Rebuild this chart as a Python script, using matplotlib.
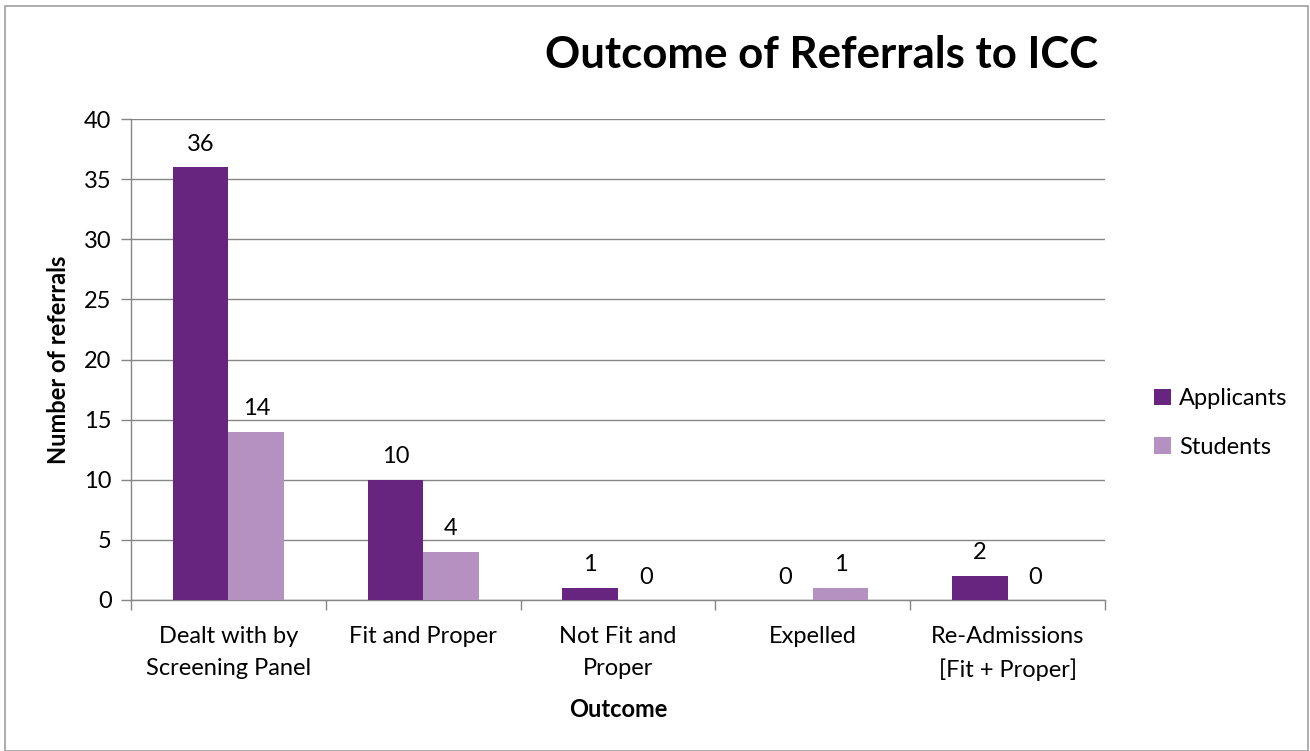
import matplotlib
matplotlib.use("Agg")
import matplotlib.pyplot as plt
import numpy as np
from matplotlib.patches import Rectangle

categories = ["Dealt with by\nScreening Panel", "Fit and Proper", "Not Fit and\nProper",
              "Expelled", "Re-Admissions\n[Fit + Proper]"]
applicants = [36, 10, 1, 0, 2]
students = [14, 4, 0, 1, 0]
yticks = [0, 5, 10, 15, 20, 25, 30, 35, 40]

plt.rcParams['font.family'] = ['Lato', 'DejaVu Sans']

W, H = 1310, 751
fig = plt.figure(figsize=(W / 100, H / 100), dpi=100)
ax = fig.add_axes([131 / W, 1 - 600 / H, (1105 - 131) / W, (600 - 119) / H])

c_app = "#68257F"
c_stu = "#B491C1"
grid_c = "#868686"
fs = 17

x = np.arange(len(categories))
bw = 1 / 3.5
b1 = ax.bar(x - bw / 2, applicants, bw, color=c_app, label="Applicants", zorder=3)
b2 = ax.bar(x + bw / 2, students, bw, color=c_stu, label="Students", zorder=3)

for bars in (b1, b2):
    for r in bars:
        ax.annotate(f"{int(r.get_height())}", (r.get_x() + r.get_width() / 2, r.get_height()),
                    xytext=(0, 9), textcoords="offset points", ha="center", va="bottom",
                    fontsize=fs, color="black")

ax.set_xlim(-0.5, len(categories) - 0.5)
ax.set_ylim(0, 40)
ax.set_yticks(yticks)
ax.set_yticklabels([str(v) for v in yticks], fontsize=fs)
ax.yaxis.grid(True, color=grid_c, linewidth=1, zorder=0)
ax.set_axisbelow(True)

ax.set_xticks(x)
ax.set_xticklabels(categories, fontsize=fs, linespacing=1.6)
ax.tick_params(axis="x", length=0, pad=19)
ax.set_xticks(np.arange(len(categories) + 1) - 0.5, minor=True)
ax.tick_params(axis="x", which="minor", length=7, color=grid_c, width=1)
ax.tick_params(axis="y", length=7, color=grid_c, width=1, pad=7)

for s in ("top", "right"):
    ax.spines[s].set_visible(False)
for s in ("left", "bottom"):
    ax.spines[s].set_color(grid_c)
    ax.spines[s].set_linewidth(1)

ax.set_xlabel("Outcome", fontsize=fs, fontweight="bold", labelpad=12)
ax.set_ylabel("Number of referrals", fontsize=fs, fontweight="bold", labelpad=10)

fig.text(822 / W, 1 - 55 / H, "Outcome of Referrals to ICC", fontsize=31.5,
         fontweight="bold", ha="center", va="center")

leg = ax.legend(loc="center left", bbox_to_anchor=(1133 / W, 1 - 423 / H),
                bbox_transform=fig.transFigure, frameon=False, fontsize=fs,
                handlelength=0.7, handleheight=0.7, handletextpad=0.35, labelspacing=1.15)

fig.patches.append(Rectangle((5 / W, 0), (1308 - 5) / W, 1 - 6 / H, transform=fig.transFigure,
                             fill=False, edgecolor="#A0A0A0", linewidth=1.2))

fig.savefig("out.png", dpi=100, facecolor="white")
